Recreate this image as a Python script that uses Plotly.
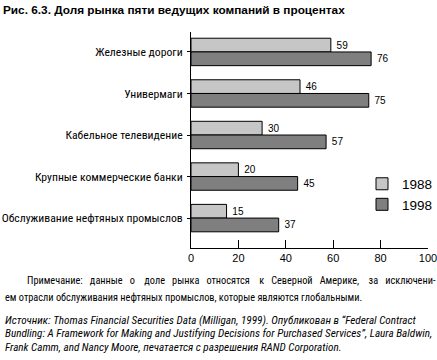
import plotly.graph_objects as go

categories = ["Железные дороги", "Универмаги", "Кабельное телевидение",
              "Крупные коммерческие банки", "Обслуживание нефтяных промыслов"]
values_1988 = [59, 46, 30, 20, 15]
values_1998 = [76, 75, 57, 45, 37]
series_names = ["1988", "1998"]
x_ticks = [0, 20, 40, 60, 80, 100]

title_text = "Рис. 6.3. Доля рынка пяти ведущих компаний в процентах"
note_lines = [
    "Примечание: данные о доле рынка относятся к Северной Америке, за исключени-",
    "ем отрасли обслуживания нефтяных промыслов, которые являются глобальными.",
]
source_lines = [
    "Источник: Thomas Financial Securities Data (Milligan, 1999). Опубликован в “Federal Contract",
    "Bundling: A Framework for Making and Justifying Decisions for Purchased Services”, Laura Baldwin,",
    "Frank Camm, and Nancy Moore, печатается с разрешения RAND Corporation.",
]

W, H = 437, 360
L, R, T, B = 191, 428, 32, 248
FONT = "Roboto Condensed, Liberation Sans, Arial, sans-serif"
NUMFONT = "Liberation Sans, Arial, sans-serif"
NB = "\u00a0"


def px(x):
    return (x - L) / (R - L)


def py(y):
    return (B - y) / (B - T)


def justify(line):
    # emulate justified text: widen the gaps between words
    words = line.split(" ")
    out = words[0]
    for i, w in enumerate(words[1:]):
        out += " " + NB * (3 if i in (2, 5, 8) else 2) + w
    return out


fig = go.Figure()
for name, vals, color in [(series_names[0], values_1988, "#c6c6c6"),
                          (series_names[1], values_1998, "#7f7f7f")]:
    fig.add_trace(go.Bar(
        y=categories, x=vals, name=name, orientation="h",
        marker=dict(color=color, line=dict(color="black", width=1)),
        text=vals, texttemplate=" %{x}", textposition="outside",
        textfont=dict(size=10, color="black", family=NUMFONT),
        cliponaxis=False,
    ))

annotations = []
annotations.append(dict(text=justify(note_lines[0]), x=px(25), y=py(280), xref="paper", yref="paper",
                        xanchor="left", yanchor="middle", showarrow=False,
                        font=dict(size=10.3, family=FONT, color="black")))
annotations.append(dict(text=note_lines[1], x=px(3), y=py(297), xref="paper", yref="paper",
                        xanchor="left", yanchor="middle", showarrow=False,
                        font=dict(size=10.3, family=FONT, color="black")))
for i, line in enumerate(source_lines):
    annotations.append(dict(text="<i>" + line + "</i>", x=px(3), y=py(320 + 13.5 * i),
                            xref="paper", yref="paper", xanchor="left", yanchor="middle",
                            showarrow=False, font=dict(size=11.2, family=FONT, color="black")))

fig.update_layout(
    width=W, height=H,
    margin=dict(l=L, r=W - R, t=T, b=H - B, pad=0, autoexpand=False),
    paper_bgcolor="white", plot_bgcolor="white",
    barmode="group", bargap=0.34, bargroupgap=0,
    font=dict(family=FONT, size=12, color="black"),
    title=dict(text="<b>" + title_text + "</b>", x=3 / W, xanchor="left", xref="container",
               y=1 - 10 / H, yanchor="middle", yref="container",
               font=dict(size=11.8, family=NUMFONT, color="black")),
    xaxis=dict(range=[0, 100], tickvals=x_ticks, ticks="inside", ticklen=8, tickwidth=1,
               tickcolor="black", showline=True, linecolor="black", linewidth=1,
               showgrid=False, zeroline=False, tickfont=dict(size=11, family=NUMFONT),
               ticklabeloverflow="allow", automargin=False, fixedrange=True),
    yaxis=dict(type="category", range=[4.72, -0.48], ticks="outside", ticklen=3,
               tickcolor="black", showline=True, linecolor="black", linewidth=1,
               showgrid=False, zeroline=False, tickfont=dict(size=11.7, family=FONT),
               ticklabelstandoff=2, automargin=False, fixedrange=True),
    legend=dict(x=px(362), y=py(168.5), xanchor="left", yanchor="top",
                font=dict(size=13.5, family=NUMFONT), itemwidth=30, tracegroupgap=0,
                bgcolor="rgba(0,0,0,0)", traceorder="normal"),
    showlegend=True,
    annotations=annotations,
)

fig.write_html("out.html", config={"displayModeBar": False, "staticPlot": True},
               post_script="document.body.style.margin='0px';document.body.style.overflow='hidden';")
